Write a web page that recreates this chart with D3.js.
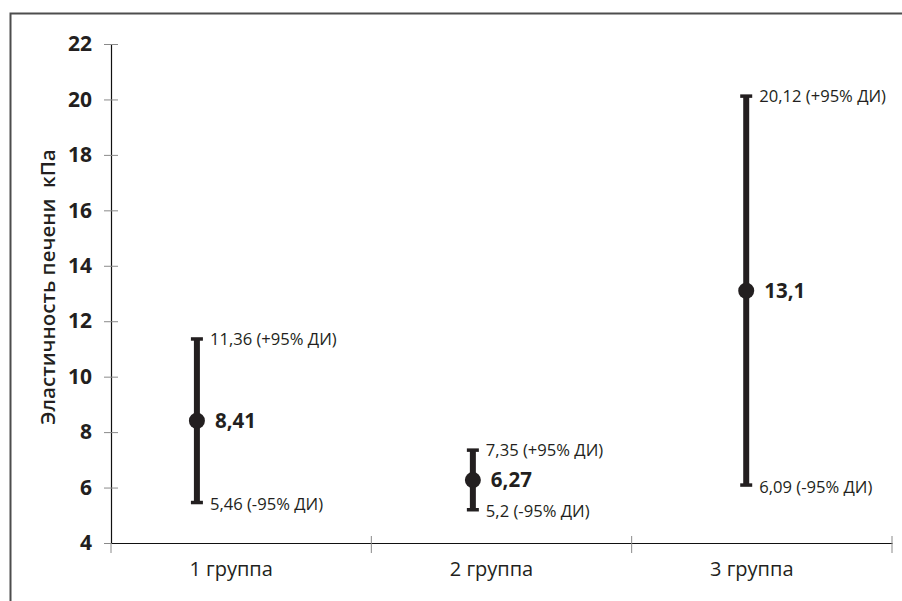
<!DOCTYPE html>
<html>
<head>
<meta charset="utf-8">
<script src="https://cdn.jsdelivr.net/npm/d3@7"></script>
<style>
  body { margin: 0; background: #fff; }
  svg { display: block; font-family: "Open Sans", "Noto Sans", sans-serif; }
</style>
</head>
<body>
<svg id="board" width="902" height="601"></svg>
<script>
// group names and values (kPa)
let groups = ['1 группа', '2 группа', '3 группа']
let means = [8.41, 6.27, 13.1]
let upperCI = [11.36, 7.35, 20.12]
let lowerCI = [5.46, 5.2, 6.09]
let meanLabels = ['8,41', '6,27', '13,1']
let upperLabels = ['11,36 (+95% ДИ)', '7,35 (+95% ДИ)', '20,12 (+95% ДИ)']
let lowerLabels = ['5,46 (-95% ДИ)', '5,2 (-95% ДИ)', '6,09 (-95% ДИ)']
let yTicks = [4, 6, 8, 10, 12, 14, 16, 18, 20, 22]

let board = d3.select('#board')

let plotLeft = 111, plotRight = 892, plotTop = 44, plotBottom = 543

// frame around the chart
board.append('path')
    .attr('d', 'M10.5,601 L10.5,13.5 L902,13.5')
    .attr('fill', 'none')
    .attr('stroke', '#4d4d4d')
    .attr('stroke-width', 2)

let yScale = d3.scaleLinear().domain([4, 22]).range([plotBottom, plotTop])
let xScale = d3.scaleBand().domain(groups).range([plotLeft, plotRight])

// marks are drawn a bit left of each band centre, like the original
let shift = [-0.17, -0.11, -0.06]
let markX = (i) => xScale(groups[i]) + xScale.bandwidth() * (0.5 + shift[i])

// y axis
let yAxis = board.append('g')
    .attr('transform', 'translate(' + plotLeft + ',0)')
    .call(d3.axisLeft(yScale).tickValues(yTicks).tickSize(0).tickPadding(19))
yAxis.select('.domain').attr('stroke', '#111').attr('stroke-width', 1.2)
yAxis.selectAll('text')
    .attr('font-size', 21)
    .attr('font-weight', 'bold')
    .attr('fill', '#231f20')
    .attr('font-family', '"Open Sans", sans-serif')
yAxis.selectAll('.tick').append('line')
    .attr('x1', -7).attr('x2', 7)
    .attr('stroke', '#8a8a8a')

// x axis
let xAxis = board.append('g')
    .attr('transform', 'translate(0,' + plotBottom + ')')
    .call(d3.axisBottom(xScale).tickSize(0).tickPadding(19))
xAxis.select('.domain').attr('stroke', '#111').attr('stroke-width', 1.2)
xAxis.selectAll('text')
    .attr('font-size', 20)
    .attr('fill', '#231f20')
    .attr('font-family', '"Open Sans", sans-serif')
    .attr('dx', -10)
let xBounds = [plotLeft].concat(groups.map((g) => xScale(g) + xScale.bandwidth()))
xAxis.selectAll('.bound')
    .data(xBounds)
    .enter()
    .append('line')
    .attr('class', 'bound')
    .attr('x1', (d) => d).attr('x2', (d) => d)
    .attr('y1', (d, i) => i === 0 ? 0 : -7)
    .attr('y2', 10)
    .attr('stroke', '#8a8a8a')

// y axis title
board.append('text')
    .attr('transform', 'translate(55,287) rotate(-90)')
    .attr('text-anchor', 'middle')
    .attr('font-size', 20.5)
    .attr('font-weight', 600)
    .attr('fill', '#231f20')
    .style('white-space', 'pre')
    .text('Эластичность печени  кПа')

// error bars
let bars = board.selectAll('.bar')
    .data(groups)
    .enter()
    .append('g')
    .attr('class', 'bar')

bars.append('line')
    .attr('x1', (d, i) => markX(i)).attr('x2', (d, i) => markX(i))
    .attr('y1', (d, i) => yScale(upperCI[i]))
    .attr('y2', (d, i) => yScale(lowerCI[i]))
    .attr('stroke', '#231f20')
    .attr('stroke-width', 6)

bars.selectAll('.cap')
    .data((d, i) => [upperCI[i], lowerCI[i]].map((v) => ({ v: v, i: i })))
    .enter()
    .append('line')
    .attr('class', 'cap')
    .attr('x1', (d) => markX(d.i) - 6).attr('x2', (d) => markX(d.i) + 6)
    .attr('y1', (d) => yScale(d.v)).attr('y2', (d) => yScale(d.v))
    .attr('stroke', '#231f20')
    .attr('stroke-width', 3.5)

bars.append('circle')
    .attr('cx', (d, i) => markX(i))
    .attr('cy', (d, i) => yScale(means[i]))
    .attr('r', 8)
    .attr('fill', '#231f20')

bars.append('text')
    .attr('x', (d, i) => markX(i) + 18)
    .attr('y', (d, i) => yScale(means[i]))
    .attr('dy', '0.36em')
    .attr('font-size', 20.5)
    .attr('font-weight', 'bold')
    .attr('fill', '#231f20')
    .text((d, i) => meanLabels[i])

bars.append('text')
    .attr('x', (d, i) => markX(i) + 13)
    .attr('y', (d, i) => yScale(upperCI[i]))
    .attr('dy', '0.36em')
    .attr('font-size', 16.6)
    .attr('fill', '#231f20')
    .text((d, i) => upperLabels[i])

bars.append('text')
    .attr('x', (d, i) => markX(i) + 13)
    .attr('y', (d, i) => yScale(lowerCI[i]))
    .attr('dy', '0.45em')
    .attr('font-size', 16.6)
    .attr('fill', '#231f20')
    .text((d, i) => lowerLabels[i])
</script>
</body>
</html>
